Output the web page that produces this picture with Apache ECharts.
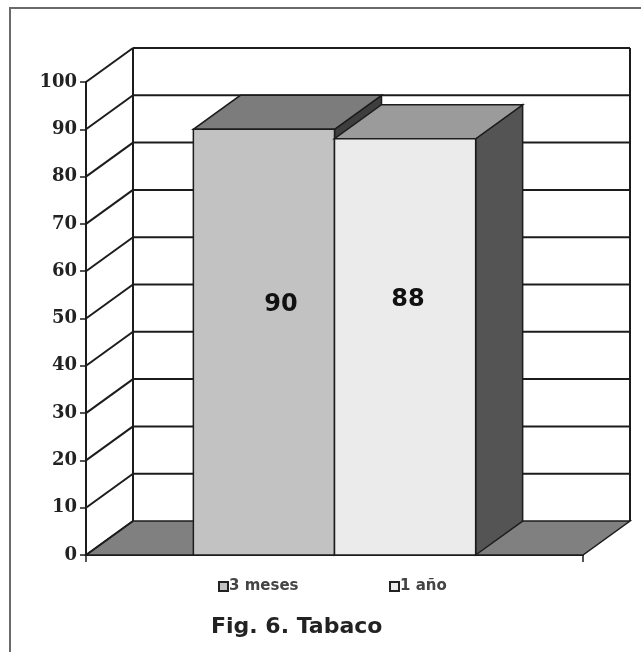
<!DOCTYPE html>
<html>
<head>
<meta charset="utf-8">
<script src="https://cdn.jsdelivr.net/npm/echarts@6/dist/echarts.min.js"></script>
<style>
  html, body { margin: 0; padding: 0; background: #fff; }
  #chart { width: 641px; height: 652px; }
</style>
</head>
<body>
<div id="chart"></div>
<script>
// data
var categories = ['Tabaco'];
var seriesNames = ['3 meses', '1 año'];
var values = [90, 88];
var yMin = 0, yMax = 100, yStep = 10;
var yTicks = [0, 10, 20, 30, 40, 50, 60, 70, 80, 90, 100];

// look
var DX = 47, DY = -34;          // depth of the 3d box
var BAR_FRAC = 0.284;           // bar width as part of the category band
var lineCol = '#1c1c1c';
var faceCols = [
  { front: '#c2c2c2', top: '#7c7c7c', side: '#3e3e3e' },
  { front: '#ebebeb', top: '#9b9b9b', side: '#545454' }
];
var labelShift = [[17, 53], [3, 54]];   // x px, y value for the number label
var legendLeft = [213, 384];

var chart = echarts.init(document.getElementById('chart'));

function poly(points, fill) {
  return {
    type: 'polygon',
    shape: { points: points },
    style: { fill: fill, stroke: lineCol, lineWidth: 1.5 }
  };
}
function seg(x1, y1, x2, y2) {
  return {
    type: 'line',
    shape: { x1: x1, y1: y1, x2: x2, y2: y2 },
    style: { stroke: lineCol, lineWidth: 2 }
  };
}

// walls, floor and grid lines
function renderWalls(params, api) {
  var v = api.value(1);
  var p = api.coord([0, v]);
  var p0 = api.coord([0, yMin]);
  var band = api.size([1, 0])[0];
  var left = p[0] - band / 2, right = p[0] + band / 2, y = p[1];
  var kids = [];
  if (v === yMin) {
    kids.push(poly([[left, y], [right, y], [right + DX, y + DY], [left + DX, y + DY]], '#808080'));
  } else {
    kids.push(seg(left + DX, y + DY, right + DX, y + DY));
  }
  kids.push(seg(left, y, left + DX, y + DY));
  if (v === yMax) {
    kids.push(seg(left + DX, p0[1] + DY, left + DX, y + DY));
    kids.push(seg(right + DX, p0[1] + DY, right + DX, y + DY));
  }
  return { type: 'group', children: kids };
}

function renderBar(params, api) {
  var k = params.seriesIndex - 1;
  var c = faceCols[k];
  var val = api.value(1);
  var base = api.coord([api.value(0), 0]);
  var top = api.coord([api.value(0), val]);
  var band = api.size([1, 0])[0];
  var w = band * BAR_FRAC;
  var x0 = base[0] - w + k * w, x1 = x0 + w;
  var yb = base[1], yt = top[1];
  var lp = api.coord([api.value(0), labelShift[k][1]]);
  return {
    type: 'group',
    children: [
      poly([[x1, yb], [x1 + DX, yb + DY], [x1 + DX, yt + DY], [x1, yt]], c.side),
      poly([[x0, yt], [x1, yt], [x1 + DX, yt + DY], [x0 + DX, yt + DY]], c.top),
      poly([[x0, yb], [x1, yb], [x1, yt], [x0, yt]], c.front),
      {
        type: 'text',
        style: {
          text: String(val),
          x: x0 + w / 2 + labelShift[k][0],
          y: lp[1],
          align: 'center',
          verticalAlign: 'middle',
          font: 'bold 24px "DejaVu Sans", Verdana, sans-serif',
          fill: '#111'
        }
      }
    ]
  };
}

var series = [{
  type: 'custom',
  name: 'walls',
  renderItem: renderWalls,
  data: yTicks.map(function (t) { return [0, t]; }),
  silent: true,
  z: 1
}];
seriesNames.forEach(function (n, i) {
  series.push({
    type: 'custom',
    name: n,
    renderItem: renderBar,
    data: [[0, values[i]]],
    itemStyle: { color: faceCols[i].front, borderColor: '#222', borderWidth: 1 },
    z: 2
  });
});

var legends = seriesNames.map(function (n, i) {
  return {
    data: [n],
    left: legendLeft[i],
    top: 574,
    icon: 'rect',
    itemWidth: 9,
    itemHeight: 9,
    textStyle: {
      fontFamily: '"DejaVu Sans", Verdana, sans-serif',
      fontWeight: 'bold',
      fontSize: 15,
      color: '#444',
      padding: [0, 0, 0, -4]
    }
  };
});

chart.setOption({
  animation: false,
  backgroundColor: '#fff',
  title: {
    text: 'Fig. 6. Tabaco',
    left: 206,
    top: 611,
    textStyle: { fontFamily: '"DejaVu Sans", Verdana, sans-serif', fontSize: 22, fontWeight: 'bold', color: '#222' }
  },
  legend: legends,
  graphic: [{
    type: 'rect',
    shape: { x: 10, y: 8, width: 660, height: 680 },
    style: { fill: 'none', stroke: '#6a6a6a', lineWidth: 2 },
    silent: true
  }],
  grid: { left: 86, right: 58, top: 82, bottom: 97 },
  xAxis: {
    type: 'category',
    data: categories,
    boundaryGap: true,
    axisLine: { show: true, lineStyle: { color: lineCol, width: 2 } },
    axisTick: { show: true, length: 7, lineStyle: { color: lineCol, width: 1.5 } },
    axisLabel: { show: false }
  },
  yAxis: {
    type: 'value',
    min: yMin,
    max: yMax,
    interval: yStep,
    axisLine: { show: true, lineStyle: { color: lineCol, width: 2 } },
    axisTick: { show: true, length: 6, lineStyle: { color: lineCol, width: 1.5 } },
    axisLabel: {
      margin: 9,
      fontFamily: '"DejaVu Serif", "Times New Roman", serif',
      fontWeight: 'bold',
      fontSize: 18,
      color: '#222'
    },
    splitLine: { show: false }
  },
  series: series
});
</script>
</body>
</html>
